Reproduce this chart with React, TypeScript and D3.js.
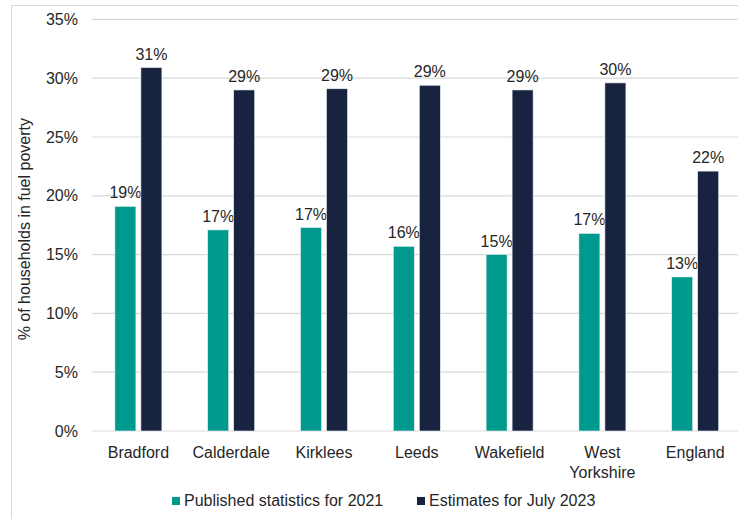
import React from "react";
import * as d3 from "d3";

const categories = ["Bradford", "Calderdale", "Kirklees", "Leeds", "Wakefield", "West Yorkshire", "England"];
const published2021 = [19.1, 17.1, 17.3, 15.7, 15.0, 16.8, 13.1];
const estimates2023 = [30.9, 29.0, 29.1, 29.4, 29.0, 29.6, 22.1];
const yTicks = [0, 5, 10, 15, 20, 25, 30, 35];
const seriesNames = ["Published statistics for 2021", "Estimates for July 2023"];
const seriesColors = ["#00998D", "#18243F"];

const W = 738;
const H = 519;
const plot = { left: 92, right: 741.6, top: 19.4, bottom: 431 };
const FONT = "Arial, 'Liberation Sans', Helvetica, sans-serif";
const FS = 16;

export default function App() {
  const x = d3.scaleBand<string>().domain(categories).range([plot.left, plot.right]).paddingInner(0).paddingOuter(0);
  const inner = d3.scaleBand<number>().domain([0, 1]).range([-23.5, 23.5]).paddingInner(5 / 26).paddingOuter(0);
  const y = d3.scaleLinear().domain([0, 35]).range([plot.bottom, plot.top]);
  const series = [published2021, estimates2023];

  return (
    <svg width={W} height={H} style={{ position: "absolute", left: 0, top: 0, background: "#fff" }} fontFamily={FONT}>
      <rect x={0} y={0} width={W} height={H} fill="#fff" />
      <path d={`M11.5,${H} V5.5 H${W}`} fill="none" stroke="#d9d9d9" strokeWidth={1} />
      {yTicks.map((t) => (
        <g key={t}>
          <line x1={plot.left} x2={W} y1={y(t)} y2={y(t)} stroke="#d9d9d9" strokeWidth={1.2} />
          <text x={78} y={y(t) + 5.5} textAnchor="end" fontSize={FS} fill="#262626">
            {t}%
          </text>
        </g>
      ))}
      <text
        transform={`translate(30,${(plot.top + plot.bottom) / 2 + 4}) rotate(-90)`}
        textAnchor="middle"
        fontSize={FS}
        fill="#262626"
      >
        % of households in fuel poverty
      </text>
      {categories.map((c, i) => {
        const cx = (x(c) as number) + x.bandwidth() / 2;
        return (
          <g key={c}>
            {series.map((s, si) => {
              const bx = cx + (inner(si) as number);
              const v = s[i];
              return (
                <g key={si}>
                  <rect
                    x={bx}
                    y={y(v)}
                    width={inner.bandwidth()}
                    height={y(0) - y(v)}
                    fill={seriesColors[si]}
                    stroke="#e8eef0"
                    strokeWidth={0.6}
                  />
                  <text x={bx + inner.bandwidth() / 2} y={y(v) - 8} textAnchor="middle" fontSize={FS} fill="#262626">
                    {Math.round(v)}%
                  </text>
                </g>
              );
            })}
            {c === "West Yorkshire" ? (
              c.split(" ").map((w, wi) => (
                <text key={wi} x={cx} y={458 + wi * 19.5} textAnchor="middle" fontSize={FS} fill="#262626">
                  {w}
                </text>
              ))
            ) : (
              <text x={cx} y={458} textAnchor="middle" fontSize={FS} fill="#262626">
                {c}
              </text>
            )}
          </g>
        );
      })}
      {seriesNames.map((n, i) => {
        const lx = [172, 417][i];
        return (
          <g key={n}>
            <rect x={lx} y={497} width={8} height={8} fill={seriesColors[i]} />
            <text x={lx + 12} y={506} fontSize={FS} fill="#262626">
              {n}
            </text>
          </g>
        );
      })}
    </svg>
  );
}
